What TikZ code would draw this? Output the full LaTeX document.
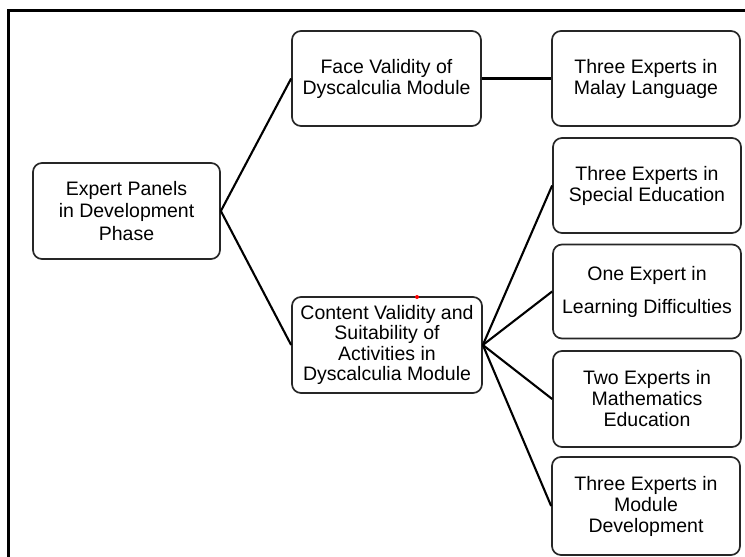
\documentclass[tikz,border=0pt]{standalone}
\usepackage{fontspec}
\setmainfont{Liberation Sans}
\begin{document}
\begin{tikzpicture}[x=1pt,y=-1pt,
  box/.style={draw=black!85, line width=1.7pt, rounded corners=9pt, align=center,
    inner sep=0pt, text=black, font=\fontsize{19.5}{21}\selectfont},
  lbox/.style={box, minimum width=188pt, minimum height=95pt},
  link/.style={line width=2.1pt, black},
  frame/.style={line width=3pt, black}]
\useasboundingbox (0,0) rectangle (745,557);
\draw[frame] (8,557) -- (8,10) -- (745,10);

\node[box, minimum width=187pt, minimum height=96pt, font=\fontsize{19.5}{22.5}\selectfont] (ep) at (126.5,211) {Expert Panels\\in Development\\Phase};
\node[box, minimum width=189pt, minimum height=95pt] (fv) at (386.5,78.5) {Face Validity of\\Dyscalculia Module};
\node[box, minimum width=190pt, minimum height=96pt, font=\fontsize{19.5}{20.5}\selectfont] (cv) at (387,345) {Content Validity and\\Suitability of\\Activities in\\Dyscalculia Module};

\node[lbox] (ml) at (646,78.5) {Three Experts in\\Malay Language};
\node[lbox] (se) at (647,185.5) {Three Experts in\\Special Education};
\node[lbox, minimum height=94pt] (ld) at (647,291.5) {One Expert in\\[12pt]Learning Difficulties};
\node[lbox, minimum height=96pt] (me) at (647,399) {Two Experts in\\Mathematics\\Education};
\node[lbox, minimum height=98pt] (md) at (646,506) {Three Experts in\\Module\\Development};

\draw[link] (ep.east) -- (fv.west);
\draw[link] (ep.east) -- (cv.west);
\draw[link] (fv.east) -- (ml.west);
\draw[link] (cv.east) -- (se.west);
\draw[link] (cv.east) -- (ld.west);
\draw[link] (cv.east) -- (me.west);
\draw[link] (cv.east) -- (md.west);

\fill[red] (417,297) circle (2pt);
\end{tikzpicture}
\end{document}
